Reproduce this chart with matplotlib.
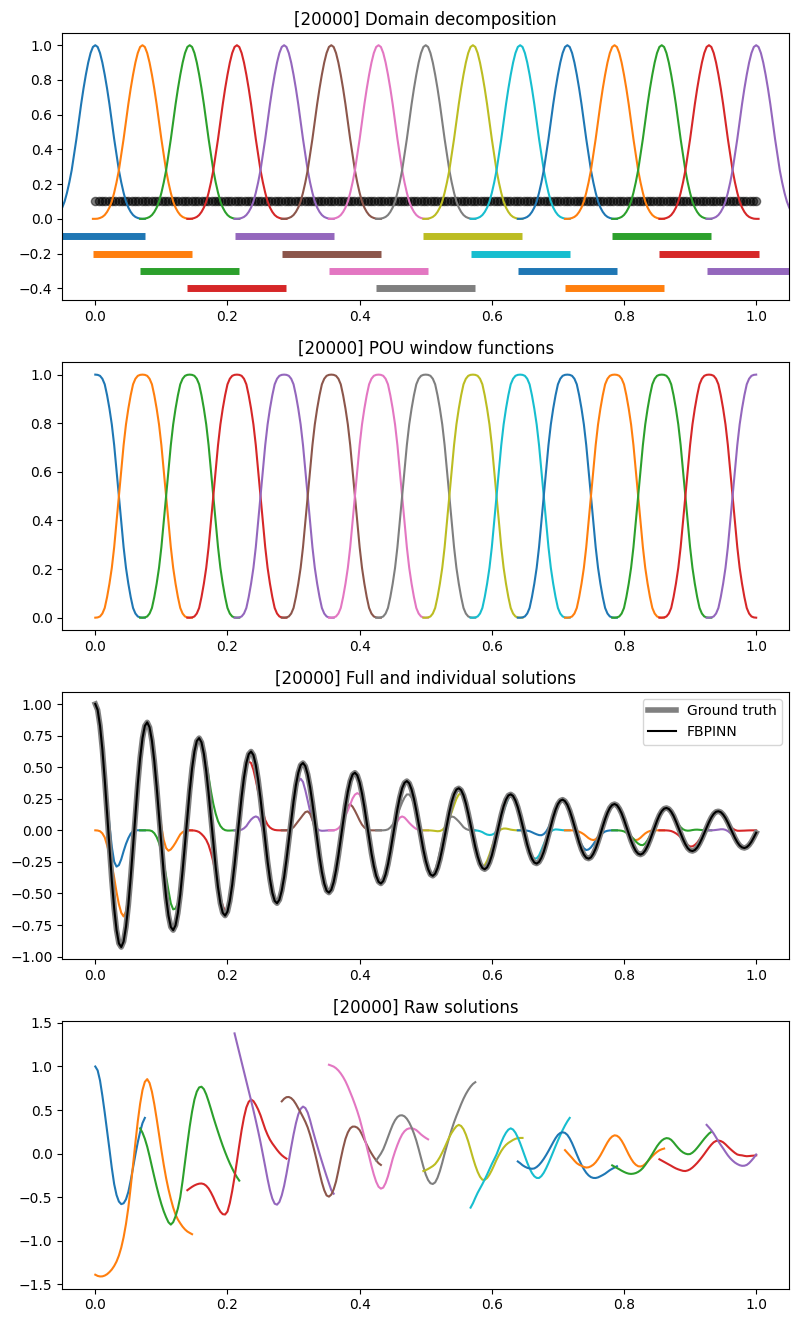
import numpy as np
import matplotlib.pyplot as plt

# solutions are sampled every 1/280, subdomain centres every 20 samples,
# each subdomain reaching 21 samples (0.075) either side of its centre
x_grid = np.linspace(0, 1, 281)
step = 1 / 280
offsets = np.arange(-21, 22)

centers = [0.0, 0.0714, 0.1429, 0.2143, 0.2857, 0.3571, 0.4286, 0.5,
           0.5714, 0.6429, 0.7143, 0.7857, 0.8571, 0.9286, 1.0]
half_width = 0.075
bar_levels = [-0.1, -0.2, -0.3, -0.4, -0.1, -0.2, -0.3, -0.4,
              -0.1, -0.2, -0.3, -0.4, -0.1, -0.2, -0.3]

# collocation points on the top panel
n_points = 200
point_level = 0.1

window_half = [1.0, 0.99, 0.955, 0.90, 0.83, 0.75, 0.66, 0.56, 0.46, 0.37, 0.28,
               0.21, 0.15, 0.10, 0.065, 0.04, 0.022, 0.011, 0.005, 0.001, 0.0, 0.0]
pou_half = [1.0, 0.999, 0.995, 0.983, 0.96, 0.915, 0.86, 0.795, 0.71, 0.605, 0.5,
            0.395, 0.29, 0.205, 0.14, 0.085, 0.04, 0.017, 0.005, 0.001, 0.0, 0.0]

ground_truth = [
    1.000, 0.953, 0.829, 0.641, 0.403, 0.137, -0.137, -0.396, -0.618, -0.789,
    -0.895, -0.924, -0.880, -0.764, -0.592, -0.371, -0.126, 0.128, 0.367, 0.574,
    0.730, 0.827, 0.855, 0.815, 0.709, 0.548, 0.345, 0.117, -0.117, -0.338,
    -0.529, -0.674, -0.765, -0.790, -0.752, -0.653, -0.506, -0.317, -0.107, 0.110,
    0.313, 0.490, 0.624, 0.707, 0.730, 0.696, 0.606, 0.468, 0.295, 0.100,
    -0.100, -0.289, -0.452, -0.577, -0.653, -0.675, -0.643, -0.558, -0.432, -0.271,
    -0.092, 0.094, 0.268, 0.419, 0.533, 0.603, 0.624, 0.595, 0.517, 0.400,
    0.252, 0.086, -0.086, -0.247, -0.386, -0.493, -0.558, -0.577, -0.549, -0.477,
    -0.370, -0.232, -0.079, 0.080, 0.229, 0.358, 0.456, 0.516, 0.533, 0.508,
    0.442, 0.342, 0.215, 0.073, -0.073, -0.211, -0.330, -0.421, -0.478, -0.493,
    -0.470, -0.409, -0.316, -0.198, -0.067, 0.069, 0.196, 0.306, 0.390, 0.442,
    0.456, 0.435, 0.378, 0.292, 0.184, 0.062, -0.062, -0.181, -0.282, -0.360,
    -0.407, -0.421, -0.401, -0.348, -0.269, -0.169, -0.057, 0.059, 0.167, 0.261,
    0.333, 0.376, 0.390, 0.372, 0.323, 0.250, 0.157, 0.053, -0.053, -0.154,
    -0.241, -0.307, -0.349, -0.360, -0.343, -0.298, -0.231, -0.145, -0.049, 0.050,
    0.143, 0.224, 0.285, 0.323, 0.333, 0.318, 0.277, 0.214, 0.134, 0.046,
    -0.046, -0.132, -0.206, -0.264, -0.298, -0.308, -0.293, -0.255, -0.198, -0.124,
    -0.042, 0.043, 0.122, 0.191, 0.243, 0.276, 0.285, 0.272, 0.236, 0.183,
    0.115, 0.039, -0.039, -0.113, -0.176, -0.225, -0.255, -0.263, -0.250, -0.217,
    -0.169, -0.106, -0.036, 0.037, 0.104, 0.163, 0.208, 0.235, 0.243, 0.231,
    0.202, 0.156, 0.098, 0.033, -0.033, -0.096, -0.151, -0.192, -0.217, -0.224,
    -0.214, -0.185, -0.144, -0.090, -0.031, 0.031, 0.089, 0.139, 0.178, 0.201,
    0.208, 0.199, 0.172, 0.134, 0.084, 0.029, -0.028, -0.082, -0.128, -0.164,
    -0.185, -0.192, -0.183, -0.159, -0.123, -0.077, -0.026, 0.027, 0.076, 0.120,
    0.152, 0.172, 0.177, 0.169, 0.147, 0.114, 0.071, 0.024, -0.024, -0.070,
    -0.110, -0.141, -0.159, -0.164, -0.156, -0.136, -0.105, -0.066, -0.022, 0.023,
    0.065, 0.102, 0.130, 0.147, 0.151, 0.144, 0.125, 0.097, 0.061, 0.021,
    -0.021, -0.060, -0.094, -0.120, -0.135, -0.140, -0.133, -0.116, -0.090, -0.056,
    -0.019]
fbpinn = ground_truth  # the FBPINN line lies on the ground truth everywhere

# raw subdomain network outputs, clipped to [0, 1]
raw_0 = [1.00, 0.955, 0.84, 0.665, 0.47, 0.26, 0.05, -0.165, -0.35, -0.475, -0.55,
         -0.58, -0.57, -0.525, -0.44, -0.31, -0.16, -0.01, 0.13, 0.25, 0.35, 0.41]
raw_1 = [-1.39, -1.404, -1.41, -1.409, -1.40, -1.384, -1.36, -1.33, -1.29, -1.239,
         -1.17, -1.079, -0.96, -0.808, -0.62, -0.385, -0.13, 0.128, 0.37, 0.573,
         0.73, 0.824, 0.855, 0.81, 0.71, 0.568, 0.40, 0.221, 0.04, -0.128,
         -0.28, -0.409, -0.52, -0.619, -0.70, -0.757, -0.80, -0.839, -0.87, -0.894,
         -0.91, -0.925]
raw_2 = [0.29, 0.24, 0.17, 0.08, -0.03, -0.15, -0.267, -0.38, -0.485, -0.58,
         -0.662, -0.73, -0.788, -0.815, -0.787, -0.72, -0.629, -0.50, -0.312, -0.10,
         0.111, 0.31, 0.482, 0.62, 0.711, 0.76, 0.768, 0.74, 0.68, 0.60,
         0.512, 0.42, 0.334, 0.25, 0.168, 0.09, 0.018, -0.05, -0.113, -0.17,
         -0.223, -0.27, -0.31]
raw_3 = [-0.42, -0.40, -0.381, -0.365, -0.353, -0.345, -0.343, -0.35, -0.369, -0.40,
         -0.446, -0.50, -0.562, -0.62, -0.667, -0.695, -0.699, -0.665, -0.567, -0.43,
         -0.268, -0.09, 0.095, 0.27, 0.417, 0.53, 0.595, 0.62, 0.603, 0.56,
         0.506, 0.44, 0.36, 0.28, 0.215, 0.16, 0.117, 0.08, 0.043, 0.01,
         -0.018, -0.04, -0.058]
raw_4 = [1.38, 1.27, 1.16, 1.05, 0.94, 0.83, 0.72, 0.61, 0.497, 0.38,
         0.258, 0.13, -0.009, -0.15, -0.293, -0.42, -0.516, -0.575, -0.586, -0.555,
         -0.479, -0.37, -0.232, -0.08, 0.074, 0.22, 0.348, 0.45, 0.514, 0.54,
         0.523, 0.47, 0.383, 0.28, 0.184, 0.09, -0.001, -0.09, -0.176, -0.26,
         -0.341, -0.42, -0.46]
raw_5 = [0.60, 0.63, 0.648, 0.65, 0.637, 0.61, 0.569, 0.52, 0.472, 0.42,
         0.365, 0.30, 0.216, 0.12, 0.013, -0.10, -0.219, -0.33, -0.42, -0.48,
         -0.494, -0.47, -0.41, -0.32, -0.195, -0.06, 0.064, 0.17, 0.243, 0.29,
         0.31, 0.31, 0.298, 0.27, 0.219, 0.16, 0.104, 0.05, 0.003, -0.04,
         -0.078, -0.11, -0.13]
raw_6 = [1.02, 1.01, 0.999, 0.98, 0.954, 0.92, 0.879, 0.83, 0.771, 0.705,
         0.638, 0.565, 0.487, 0.40, 0.298, 0.19, 0.08, -0.03, -0.14, -0.24,
         -0.323, -0.38, -0.402, -0.39, -0.338, -0.26, -0.162, -0.06, 0.025, 0.10,
         0.166, 0.22, 0.257, 0.28, 0.29, 0.29, 0.284, 0.27, 0.246, 0.22,
         0.199, 0.18, 0.164]
raw_7 = [-0.08, -0.04, 0.0, 0.05, 0.117, 0.19, 0.263, 0.33, 0.383, 0.42,
         0.438, 0.44, 0.428, 0.40, 0.357, 0.30, 0.231, 0.15, 0.053, -0.05,
         -0.151, -0.24, -0.303, -0.34, -0.349, -0.33, -0.277, -0.20, -0.104, 0.0,
         0.097, 0.19, 0.278, 0.36, 0.433, 0.50, 0.568, 0.63, 0.684, 0.73,
         0.769, 0.80, 0.82]
raw_8 = [-0.20, -0.19, -0.176, -0.16, -0.143, -0.12, -0.084, -0.04, 0.013, 0.07,
         0.131, 0.19, 0.239, 0.28, 0.314, 0.33, 0.317, 0.28, 0.219, 0.14,
         0.046, -0.05, -0.136, -0.21, -0.266, -0.30, -0.301, -0.28, -0.241, -0.19,
         -0.131, -0.07, -0.017, 0.03, 0.069, 0.10, 0.123, 0.14, 0.157, 0.17,
         0.178, 0.18, 0.18]
raw_9 = [-0.62, -0.57, -0.508, -0.45, -0.40, -0.35, -0.296, -0.24, -0.18, -0.12,
         -0.066, -0.01, 0.06, 0.13, 0.191, 0.24, 0.275, 0.29, 0.276, 0.24,
         0.186, 0.12, 0.046, -0.03, -0.104, -0.17, -0.223, -0.26, -0.279, -0.28,
         -0.258, -0.22, -0.169, -0.11, -0.046, 0.02, 0.086, 0.15, 0.212, 0.27,
         0.323, 0.37, 0.41]
raw_10 = [-0.09, -0.11, -0.133, -0.15, -0.163, -0.17, -0.174, -0.17, -0.154, -0.13,
          -0.098, -0.06, -0.017, 0.03, 0.08, 0.13, 0.177, 0.215, 0.237, 0.245,
          0.238, 0.215, 0.174, 0.12, 0.057, -0.01, -0.073, -0.13, -0.179, -0.22,
          -0.25, -0.27, -0.279, -0.28, -0.273, -0.26, -0.246, -0.23, -0.21, -0.19,
          -0.174, -0.16, -0.145]
raw_11 = [0.04, 0.01, -0.02, -0.05, -0.082, -0.11, -0.128, -0.14, -0.153, -0.16,
          -0.157, -0.145, -0.127, -0.10, -0.063, -0.02, 0.029, 0.08, 0.129, 0.17,
          0.197, 0.21, 0.205, 0.185, 0.148, 0.10, 0.045, -0.01, -0.059, -0.10,
          -0.128, -0.145, -0.148, -0.14, -0.118, -0.09, -0.06, -0.03, -0.003, 0.02,
          0.038, 0.05, 0.058]
raw_12 = [-0.135, -0.15, -0.165, -0.18, -0.196, -0.21, -0.222, -0.23, -0.233, -0.23,
          -0.223, -0.21, -0.191, -0.165, -0.13, -0.09, -0.048, -0.005, 0.041, 0.085,
          0.121, 0.15, 0.169, 0.178, 0.174, 0.158, 0.129, 0.095, 0.063, 0.035,
          0.014, 0.0, -0.007, -0.005, 0.011, 0.035, 0.066, 0.10, 0.135, 0.17,
          0.201, 0.23, 0.25]
raw_13 = [-0.065, -0.08, -0.095, -0.11, -0.125, -0.14, -0.156, -0.17, -0.181, -0.19,
          -0.198, -0.20, -0.193, -0.18, -0.16, -0.135, -0.107, -0.075, -0.041, -0.005,
          0.033, 0.07, 0.103, 0.13, 0.145, 0.15, 0.144, 0.13, 0.107, 0.08,
          0.054, 0.03, 0.008, -0.01, -0.017, -0.02, -0.026, -0.03, -0.028, -0.025,
          -0.023, -0.02]
raw_14 = [0.33, 0.30, 0.268, 0.23, 0.186, 0.14, 0.099, 0.06, 0.019, -0.02,
          -0.053, -0.08, -0.103, -0.12, -0.133, -0.14, -0.139, -0.13, -0.109, -0.08,
          -0.048, -0.01]

raw_solutions = [raw_0, raw_1, raw_2, raw_3, raw_4, raw_5, raw_6, raw_7,
                 raw_8, raw_9, raw_10, raw_11, raw_12, raw_13, raw_14]

window_full = np.array(window_half[::-1] + window_half[1:])
pou_full = np.array(pou_half[::-1] + pou_half[1:])
colors = plt.rcParams['axes.prop_cycle'].by_key()['color']

fig, axes = plt.subplots(4, 1, figsize=(7.98, 13.23), dpi=100)
fig.subplots_adjust(left=0.078, right=0.989, top=0.975, bottom=0.026, hspace=0.232)

#domain decomposition
ax = axes[0]
for i, c in enumerate(centers):
    col = colors[i % 10]
    ax.plot(c + offsets * step, window_full, color=col)
    ax.plot([c - half_width, c + half_width], [bar_levels[i], bar_levels[i]],
            color=col, lw=5, solid_capstyle='butt')
pts = np.linspace(0, 1, n_points)
ax.scatter(pts, np.full(n_points, point_level), color='k', alpha=0.5, s=35)
ax.set_title("[20000] Domain decomposition")

#pou windows, individual (window * raw) and raw solutions
for i, raw in enumerate(raw_solutions):
    col = colors[i % 10]
    m = 20 * i + offsets
    inside = (m >= 0) & (m <= 280)
    xs = x_grid[m[inside]]
    w = pou_full[inside]
    r = np.array(raw)
    axes[1].plot(xs, w, color=col)
    axes[2].plot(xs, w * r, color=col)
    axes[3].plot(xs, r, color=col)

axes[1].set_title("[20000] POU window functions")

ax = axes[2]
ax.plot(x_grid, ground_truth, color='grey', lw=4, label='Ground truth')
ax.plot(x_grid, fbpinn, color='k', lw=1.5, label='FBPINN')
ax.legend(loc='upper right')
ax.set_title("[20000] Full and individual solutions")

axes[3].set_title("[20000] Raw solutions")

for ax in axes:
    ax.set_xlim(-0.05, 1.05)

plt.savefig("out.png", dpi=100)
